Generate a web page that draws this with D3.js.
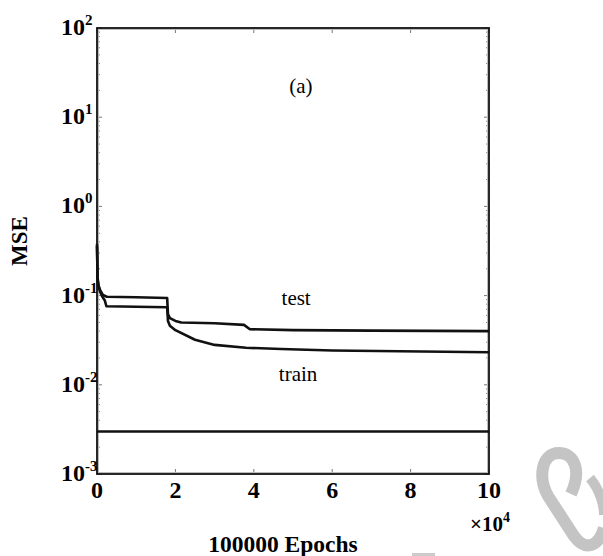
<!DOCTYPE html>
<html><head><meta charset="utf-8">
<script src="https://cdn.jsdelivr.net/npm/d3@7"></script>
<style>body{margin:0;background:#fff}</style>
</head><body>
<svg id="c" width="603" height="556"></svg>
<script>
// Data
const testEpochs = [0, 150, 400, 800, 1500, 2500, 10000, 17900, 18100, 18600, 20000, 21500, 30000, 37500, 39000, 50000, 70000, 100000];
const testMSE    = [0.38, 0.16, 0.13, 0.115, 0.102, 0.097, 0.096, 0.094, 0.062, 0.056, 0.052, 0.050, 0.049, 0.047, 0.042, 0.041, 0.0405, 0.040];
const trainEpochs = [0, 150, 400, 800, 1500, 2000, 2400, 10000, 17900, 18100, 18600, 20000, 25000, 30000, 38000, 47000, 60000, 100000];
const trainMSE    = [0.36, 0.15, 0.125, 0.11, 0.095, 0.088, 0.076, 0.075, 0.074, 0.052, 0.046, 0.041, 0.032, 0.028, 0.026, 0.0252, 0.0242, 0.0232];
const goalEpochs = [0, 100000];
const goalMSE = [0.003, 0.003];
const xTicks = [0, 2, 4, 6, 8, 10];
const yExponents = [2, 1, 0, -1, -2, -3];
const annotations = [{t:"(a)", ep:52000, v:18.5}, {t:"test", ep:50800, v:0.079}, {t:"train", ep:51300, v:0.0111}];

const svg = d3.select("#c");
const L = 97, R = 489, T = 28, B = 474;
const x = d3.scaleLinear().domain([0, 100000]).range([L, R]);
const y = d3.scaleLog().domain([1e-3, 1e2]).range([B, T]);
const font = "'Liberation Serif','Times New Roman',serif";

// watermark-like marks (decorative, bottom right)
svg.append("path")
  .attr("d", "M571,494 C582,470 574,453 559,453 C541,453 538,478 548,496 L574,536 C584,550 598,549 604,528")
  .attr("fill", "none").attr("stroke", "#c4c4c4").attr("stroke-width", 12);
svg.append("path")
  .attr("d", "M590,478 C600,490 604,505 604,515")
  .attr("fill", "none").attr("stroke", "#c4c4c4").attr("stroke-width", 10);
svg.append("rect").attr("x", 412).attr("y", 553).attr("width", 23).attr("height", 3).attr("fill", "#ccc");

// ticks
const g = svg.append("g");
const minor = [];
for (let e = -3; e < 2; e++) for (let m = 2; m <= 9; m++) minor.push(m * Math.pow(10, e));
minor.forEach(v => {
  g.append("line").attr("x1", L).attr("x2", L + 3).attr("y1", y(v)).attr("y2", y(v)).attr("stroke", "#888").attr("stroke-width", 1);
  g.append("line").attr("x1", R).attr("x2", R - 3).attr("y1", y(v)).attr("y2", y(v)).attr("stroke", "#888").attr("stroke-width", 1);
});
yExponents.forEach(e => {
  const v = Math.pow(10, e);
  g.append("line").attr("x1", L).attr("x2", L + 5).attr("y1", y(v)).attr("y2", y(v)).attr("stroke", "#777");
  g.append("line").attr("x1", R).attr("x2", R - 5).attr("y1", y(v)).attr("y2", y(v)).attr("stroke", "#777");
});
xTicks.forEach(t => {
  const xv = x(t * 1e4);
  g.append("line").attr("x1", xv).attr("x2", xv).attr("y1", B).attr("y2", B - 5).attr("stroke", "#777");
  g.append("line").attr("x1", xv).attr("x2", xv).attr("y1", T).attr("y2", T + 5).attr("stroke", "#777");
});

// frame
svg.append("rect").attr("x", L + 1.5).attr("y", T + 1.5).attr("width", R - L - 3).attr("height", B - T - 3)
  .attr("fill", "none").attr("stroke", "#bbb").attr("stroke-width", 1);
svg.append("rect").attr("x", L).attr("y", T).attr("width", R - L).attr("height", B - T)
  .attr("fill", "none").attr("stroke", "#111").attr("stroke-width", 1.8);

// lines
const line = d3.line().x(d => x(d[0])).y(d => y(d[1]));
[[testEpochs, testMSE], [trainEpochs, trainMSE], [goalEpochs, goalMSE]].forEach(([ex, vs]) => {
  svg.append("path").datum(ex.map((e, i) => [e, vs[i]])).attr("d", line)
    .attr("fill", "none").attr("stroke", "#111").attr("stroke-width", 2.6).attr("stroke-linejoin", "round");
});

// y tick labels
yExponents.forEach(e => {
  const yy = y(Math.pow(10, e));
  svg.append("text").attr("x", 85).attr("y", yy + 7)
    .attr("text-anchor", "end").attr("font-family", font).attr("font-weight", "bold").attr("font-size", 24).attr("fill", "#000")
    .text("10");
  svg.append("text").attr("x", 85).attr("y", yy - 3)
    .attr("font-family", font).attr("font-weight", "bold").attr("font-size", 15).attr("fill", "#000")
    .text(e < 0 ? "-" + (-e) : String(e));
});
// x tick labels
xTicks.forEach(t => {
  svg.append("text").attr("x", x(t * 1e4)).attr("y", 498).attr("text-anchor", "middle")
    .attr("font-family", font).attr("font-weight", "bold").attr("font-size", 24).text(String(t));
});
// x10^4
const mult = svg.append("text").attr("x", 470).attr("y", 531).attr("font-family", font).attr("font-weight", "bold").attr("font-size", 21);
mult.append("tspan").text("×10");
mult.append("tspan").attr("font-size", 14).attr("dy", -9).text("4");

// axis labels
svg.append("text").attr("x", 283).attr("y", 552).attr("text-anchor", "middle")
  .attr("font-family", font).attr("font-weight", "bold").attr("font-size", 23.5).text("100000 Epochs");
svg.append("text").attr("transform", "translate(27,241) rotate(-90)").attr("text-anchor", "middle")
  .attr("font-family", font).attr("font-weight", "bold").attr("font-size", 23).text("MSE");

// annotations
annotations.forEach(a => {
  svg.append("text").attr("x", x(a.ep)).attr("y", y(a.v)).attr("text-anchor", "middle")
    .attr("font-family", font).attr("font-size", 21).text(a.t);
});
</script>
</body></html>
